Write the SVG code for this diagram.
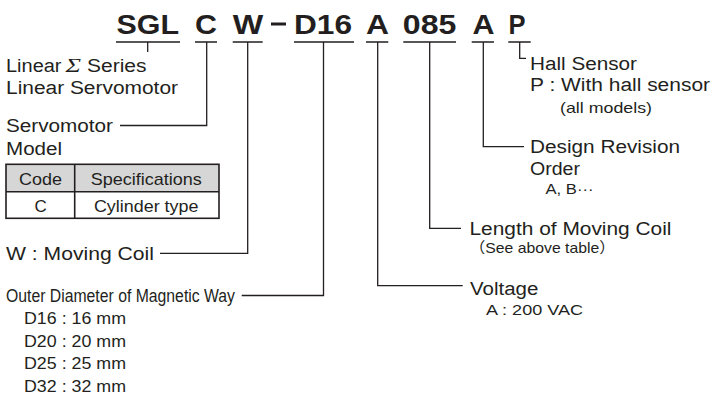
<svg xmlns="http://www.w3.org/2000/svg" width="711" height="394" viewBox="0 0 711 394">
<style>
  text { font-family: "Liberation Sans", Arial, sans-serif; fill: #231f20; }
  .code { font-weight: bold; font-size: 28px; }
  .t18 { font-size: 18px; }
  .t17 { font-size: 17px; }
  .t16 { font-size: 16px; }
  .t15 { font-size: 15px; }
  .t14 { font-size: 14px; }
  .sig { font-family: "Liberation Serif", "Times New Roman", serif; font-style: italic; font-size: 19px; }
  .ln { fill: none; stroke: #231f20; stroke-width: 1.3; }
  .cell { fill: none; stroke: #231f20; stroke-width: 1.6; }
</style>
<rect width="711" height="394" fill="#ffffff"/>

<g id="model-code">
  <text class="code" x="116.5" y="33.5" textLength="62.5" lengthAdjust="spacingAndGlyphs">SGL</text>
  <text class="code" x="195" y="33.5" textLength="22" lengthAdjust="spacingAndGlyphs">C</text>
  <text class="code" x="232.8" y="33.5" textLength="30.5" lengthAdjust="spacingAndGlyphs">W</text>
  <rect x="271" y="22.5" width="15" height="3" fill="#231f20"/>
  <text class="code" x="294" y="33.5" textLength="58" lengthAdjust="spacingAndGlyphs">D16</text>
  <text class="code" x="366" y="33.5" textLength="23" lengthAdjust="spacingAndGlyphs">A</text>
  <text class="code" x="402.8" y="33.5" textLength="53.5" lengthAdjust="spacingAndGlyphs">085</text>
  <text class="code" x="472.6" y="33.5" textLength="22" lengthAdjust="spacingAndGlyphs">A</text>
  <text class="code" x="508.5" y="33.5" textLength="17" lengthAdjust="spacingAndGlyphs">P</text>
</g>

<g id="connectors">
  <path class="ln" d="M116 42H180M195 42H217M232.7 42H262.7M294 42H354M366 42H388.3M403.3 42H456M471.7 42H494M508.3 42H530.7"/>
  <path class="ln" d="M147.7 42V52"/>
  <path class="ln" d="M206.7 42V125.5H120"/>
  <path class="ln" d="M247.7 42V253.3H160"/>
  <path class="ln" d="M323.5 42V295.5H241.7"/>
  <path class="ln" d="M377.7 42V285.7H462.7"/>
  <path class="ln" d="M429.7 42V228.3H461"/>
  <path class="ln" d="M483.3 42V146.7H524"/>
  <path class="ln" d="M519.7 42V58.3H526"/>
</g>

<g id="series">
  <text class="t18" x="6" y="72.3" textLength="55.5" lengthAdjust="spacingAndGlyphs">Linear</text>
  <text class="sig" x="65.5" y="72.3" textLength="15.5" lengthAdjust="spacingAndGlyphs">Σ</text>
  <text class="t18" x="87" y="72.3" textLength="59.5" lengthAdjust="spacingAndGlyphs">Series</text>
  <text class="t18" x="6" y="93.5" textLength="172" lengthAdjust="spacingAndGlyphs">Linear Servomotor</text>
</g>

<g id="servomotor-model">
  <text class="t18" x="6" y="131.7" textLength="107" lengthAdjust="spacingAndGlyphs">Servomotor</text>
  <text class="t18" x="6" y="155" textLength="56" lengthAdjust="spacingAndGlyphs">Model</text>
</g>

<g id="model-table">
  <rect x="6" y="164.3" width="213" height="27.4" fill="#d6d6d6"/>
  <rect class="cell" x="6" y="164.3" width="213" height="54"/>
  <path class="cell" d="M6 191.7H219M74.7 164.3V218.3"/>
  <text class="t17" x="40.4" y="185" text-anchor="middle" textLength="43" lengthAdjust="spacingAndGlyphs">Code</text>
  <text class="t17" x="146.2" y="185" text-anchor="middle" textLength="111" lengthAdjust="spacingAndGlyphs">Specifications</text>
  <text class="t17" x="40.6" y="211.7" text-anchor="middle">C</text>
  <text class="t17" x="146.2" y="211.7" text-anchor="middle" textLength="104.5" lengthAdjust="spacingAndGlyphs">Cylinder type</text>
</g>

<g id="moving-coil">
  <text class="t18" x="6" y="259.5" textLength="148" lengthAdjust="spacingAndGlyphs" style="font-size:19px">W : Moving Coil</text>
</g>

<g id="outer-diameter">
  <text class="t17" x="6" y="301.5" textLength="229" lengthAdjust="spacingAndGlyphs" style="font-size:17.5px">Outer Diameter of Magnetic Way</text>
  <text class="t16" x="24" y="324.3" textLength="102" lengthAdjust="spacingAndGlyphs">D16 : 16 mm</text>
  <text class="t16" x="24" y="346.7" textLength="102" lengthAdjust="spacingAndGlyphs">D20 : 20 mm</text>
  <text class="t16" x="24" y="369" textLength="102" lengthAdjust="spacingAndGlyphs">D25 : 25 mm</text>
  <text class="t16" x="24" y="391.5" textLength="102" lengthAdjust="spacingAndGlyphs">D32 : 32 mm</text>
</g>

<g id="hall-sensor">
  <text class="t18" x="530" y="70" textLength="107" lengthAdjust="spacingAndGlyphs">Hall Sensor</text>
  <text class="t18" x="530" y="90.7" textLength="180" lengthAdjust="spacingAndGlyphs">P : With hall sensor</text>
  <text class="t15" x="560" y="113.3" textLength="92" lengthAdjust="spacingAndGlyphs">(all models)</text>
</g>

<g id="design-revision">
  <text class="t18" x="530" y="153.3" textLength="150" lengthAdjust="spacingAndGlyphs">Design Revision</text>
  <text class="t18" x="530" y="175" textLength="50" lengthAdjust="spacingAndGlyphs">Order</text>
  <text class="t15" x="545.5" y="193.5" textLength="48" lengthAdjust="spacingAndGlyphs">A, B···</text>
</g>

<g id="length">
  <text class="t18" x="469.5" y="235" textLength="202" lengthAdjust="spacingAndGlyphs">Length of Moving Coil</text>
  <text class="t15" x="469.5" y="253.3" textLength="145.5" lengthAdjust="spacingAndGlyphs" style="font-family:'Liberation Sans','Noto Sans CJK JP',sans-serif">（See above table）</text>
</g>

<g id="voltage">
  <text class="t18" x="470" y="295" textLength="68.3" lengthAdjust="spacingAndGlyphs">Voltage</text>
  <text class="t15" x="486" y="315" textLength="97" lengthAdjust="spacingAndGlyphs">A : 200 VAC</text>
</g>
</svg>
